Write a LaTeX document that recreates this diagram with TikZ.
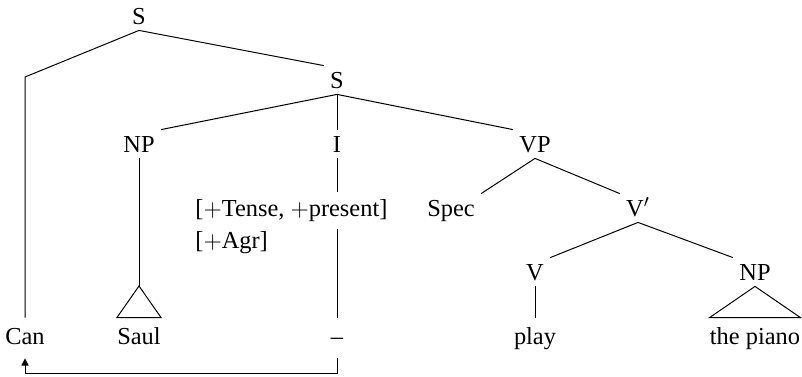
\documentclass[tikz,border=0pt]{standalone}
\usepackage{fontspec}
\setmainfont{Liberation Serif}
\usetikzlibrary{arrows.meta}
\begin{document}
\begin{tikzpicture}[x=0.5pt,y=-0.5pt,
  every node/.style={font=\fontsize{12.2}{14}\selectfont},
  cat/.style={anchor=base, text height=8pt, text depth=0pt, inner sep=3pt},
  leaf/.style={anchor=base, text height=8.5pt, text depth=2.5pt, inner xsep=0pt, inner ysep=4.5pt},
  feat/.style={anchor=base west, text height=8pt, text depth=2.5pt, inner xsep=0pt, inner ysep=4pt},
  branch/.style={line width=0.5pt},
  movearrow/.style={line width=0.5pt, -{Triangle[length=3.6pt,width=3.6pt]}}
  ]
\useasboundingbox (0,0) rectangle (802,376);
% categories
\node[cat] (S1) at (139,24) {S};
\node[cat] (S2) at (337,88) {S};
\node[cat] (NP1) at (139,152) {NP};
\node[cat] (I) at (337,152) {I};
\node[cat] (VP) at (535,152) {VP};
\node[cat] (Spec) at (451,216) {Spec};
\node[cat] (Vbar) at (638,216) {V$'$};
\node[cat] (V) at (535,280) {V};
\node[cat] (NP2) at (755,280) {NP};
% features
\node[feat] (f1) at (195,216) {[$+$Tense, $+$present]};
\node[feat] (f2) at (195,248) {[$+$Agr]};
% leaves
\node[leaf] (Can) at (25,344) {Can};
\node[leaf] (Saul) at (139,344) {Saul};
\node[leaf] (tr) at (337,344) {–};
\node[leaf] (play) at (535,344) {play};
\node[leaf] (piano) at (755,344) {the piano};
% helper points
\coordinate (bend) at (25,77);
\coordinate (sapex) at (139,286);
\coordinate (mv) at (337,373);
% branches
\draw[branch] (S1.south) -- (S2.north west);
\draw[branch] (S1.south) -- (bend) -- (Can.north);
\draw[branch] (S2.south) -- (NP1.north east);
\draw[branch] (S2.south) -- (I.north);
\draw[branch] (S2.south) -- (VP.north west);
\draw[branch] (NP1.south) -- (sapex);
\draw[branch] (sapex) -- (Saul.north west) -- (Saul.north east) -- cycle;
\draw[branch] (I.south) -- (I.south |- f1.north);
\draw[branch] (I.south |- f1.south) -- (tr.north);
\draw[movearrow] (tr.south) -- (mv) -| (Can.south);
\draw[branch] (VP.south) -- (Spec.north east);
\draw[branch] (VP.south) -- (Vbar.north west);
\draw[branch] (Vbar.south) -- (V.north east);
\draw[branch] (Vbar.south) -- (NP2.north west);
\draw[branch] (V.south) -- (play.north);
\draw[branch] (NP2.south) -- (piano.north west) -- (piano.north east) -- cycle;
\end{tikzpicture}
\end{document}
